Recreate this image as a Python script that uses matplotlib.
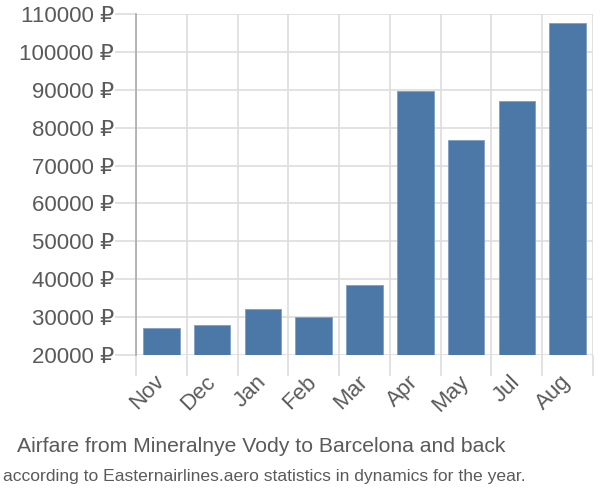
import numpy as np
import matplotlib.pyplot as plt

months = ['Nov', 'Dec', 'Jan', 'Feb', 'Mar', 'Apr', 'May', 'Jul', 'Aug']
prices = [27000, 27800, 32100, 30050, 38600, 89700, 76800, 87000, 107600]
yticks = [20000, 30000, 40000, 50000, 60000, 70000, 80000, 90000, 100000, 110000]

title1 = 'Airfare from Mineralnye Vody to Barcelona and back'
title2 = 'according to Easternairlines.aero statistics in dynamics for the year.'

plt.rcParams['font.family'] = ['Liberation Sans', 'DejaVu Sans']
txt = '#5a5a5a'
grid = '#dddddd'

fig = plt.figure(figsize=(6, 5), dpi=100)
ax = fig.add_axes([136/600, 145/500, 457/600, 341/500])

x = np.arange(len(months))
ax.bar(x, prices, width=0.72, bottom=0, color='#4c78a8', edgecolor='#7f9fc4', linewidth=0.6, zorder=3)

ax.set_xlim(-0.5, len(months) - 0.5)
ax.set_ylim(20000, 110000)

ax.set_yticks(yticks)
ax.set_yticklabels([f'{v} ₽' for v in yticks])
ax.tick_params(axis='y', length=15, width=1.2, color=grid, pad=1, labelsize=16, labelcolor=txt)

ax.set_xticks(x)
ax.set_xticklabels(months, rotation=45, ha='right', va='center', rotation_mode='anchor')
ax.tick_params(axis='x', which='major', length=0, pad=17, labelsize=16, labelcolor=txt)
ax.set_xticks(np.arange(len(months) + 1) - 0.5, minor=True)
ax.tick_params(axis='x', which='minor', length=15, width=1.2, color=grid)

ax.grid(axis='y', color=grid, linewidth=1.2, zorder=0)
ax.grid(axis='x', which='minor', color=grid, linewidth=1.2, zorder=0)

for s in ['top', 'right', 'bottom']:
    ax.spines[s].set_visible(False)
ax.spines['left'].set_color('#aaaaaa')
ax.spines['left'].set_linewidth(1.2)

fig.text(261/600, 1 - 447/500, title1, ha='center', va='center', fontsize=15.2, color=txt)
fig.text(264/600, 1 - 477/500, title2, ha='center', va='center', fontsize=12.6, color=txt)

fig.savefig('out.png', dpi=100)
